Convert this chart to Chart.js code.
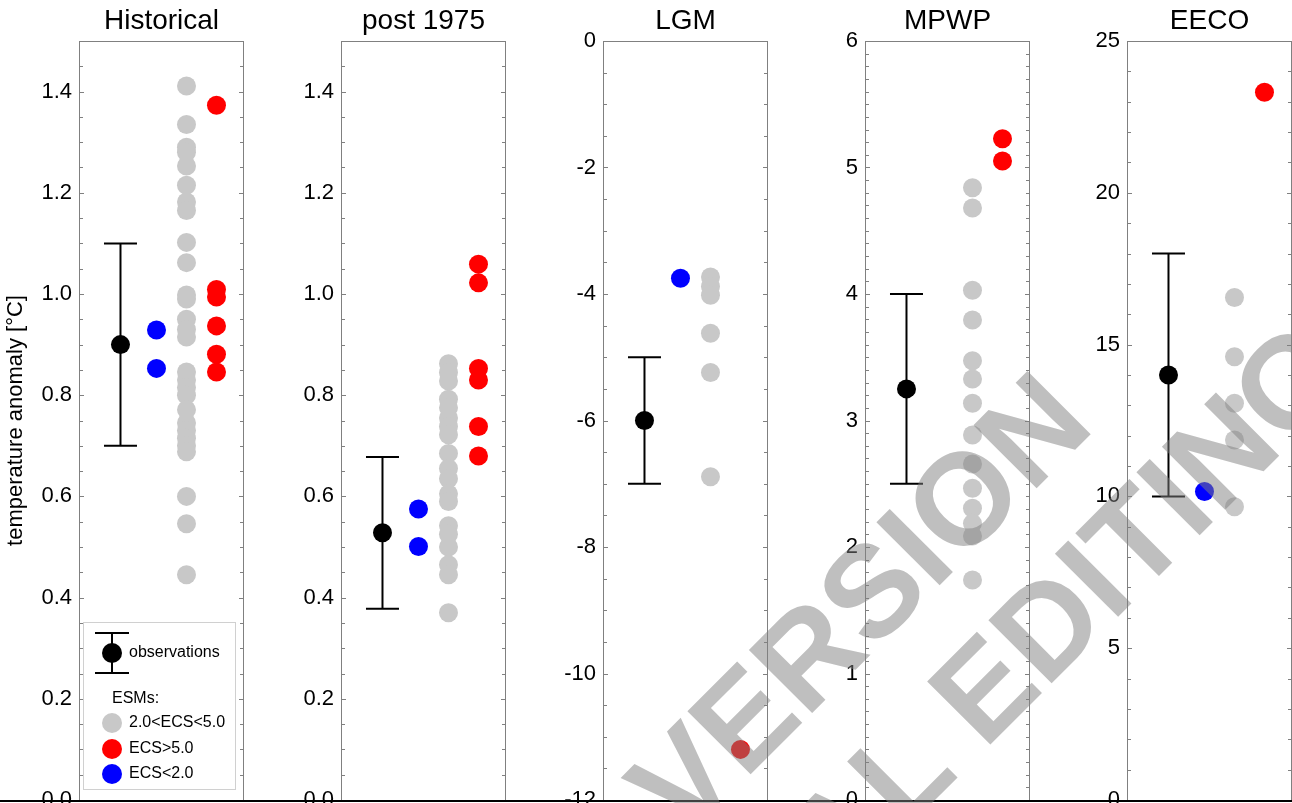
<!DOCTYPE html>
<html>
<head>
<meta charset="utf-8">
<script src="https://cdn.jsdelivr.net/npm/chart.js@4.4.1/dist/chart.umd.min.js"></script>
<style>
  html, body { margin: 0; padding: 0; background: #fff; overflow: hidden; width: 1292px; height: 803px; }
  canvas { position: absolute; top: 0; }
  #baseline { position: absolute; left: 0; top: 800px; width: 1292px; height: 2px; background: #000; }
  #wm { position: absolute; left: 0; top: 0; pointer-events: none; }
</style>
</head>
<body>
<div id="panels"></div>
<div id="baseline"></div>
<svg id="wm" width="1292" height="803">
  <g font-family="Liberation Sans, Arial, sans-serif" font-size="130" font-weight="bold" fill="rgba(128,128,128,0.5)">
    <text x="1097" y="428" text-anchor="end" transform="rotate(-45 1097 428)">ACCEPTED VERSION</text>
    <text x="1357" y="378" text-anchor="end" transform="rotate(-45 1357 378)">SUBJECT TO FINAL EDITING</text>
  </g>
</svg>
<script>
// ===== 5 パネル：観測（誤差棒）と ESM の散布 =====

const PANEL_TITLES = ['Historical', 'post 1975', 'LGM', 'MPWP', 'EECO'];
const Y_MIN   = [0, 0, -12, 0, 0];
const Y_MAX   = [1.5, 1.5, 0, 6, 25];
const Y_STEP  = [0.2, 0.2, 2, 1, 5];
const Y_MINOR = [0.05, 0.05, 0.5, 0.1, 1];
const Y_DEC   = [1, 1, 0, 0, 0];

// observations: mean with low/high whiskers
const OBS_MEAN = [0.90, 0.528, -6.0, 3.25, 14.0];
const OBS_LOW  = [0.70, 0.378, -7.0, 2.50, 10.0];
const OBS_HIGH = [1.10, 0.678, -5.0, 4.00, 18.0];

// ESMs 2.0<ECS<5.0 (gray)
const HIST_MID = [1.411, 1.335, 1.290, 1.280, 1.253, 1.215, 1.182, 1.165, 1.102, 1.062, 0.998, 0.990,
                  0.950, 0.930, 0.915, 0.846, 0.830, 0.815, 0.800, 0.771, 0.745, 0.730, 0.715, 0.700,
                  0.688, 0.600, 0.546, 0.445];
const P75_MID  = [0.862, 0.845, 0.828, 0.792, 0.775, 0.755, 0.738, 0.722, 0.685, 0.655, 0.635, 0.605,
                  0.590, 0.542, 0.525, 0.500, 0.465, 0.445, 0.370];
const LGM_MID  = [-3.73, -3.88, -4.02, -4.62, -5.24, -6.89];
const MPWP_MID = [4.84, 4.68, 4.03, 3.795, 3.473, 3.328, 3.136, 2.885, 2.656, 2.464, 2.306, 2.187, 2.087, 1.739];
const EECO_MID = [16.55, 14.6, 13.07, 11.86, 9.66];

// ESMs ECS>5.0 (red)
const HIST_HIGH = [1.373, 1.009, 0.994, 0.937, 0.881, 0.846];
const P75_HIGH  = [1.059, 1.022, 0.853, 0.830, 0.738, 0.680];
const LGM_HIGH  = [-11.2];
const MPWP_HIGH = [5.228, 5.051];
const EECO_HIGH = [23.31];

// ESMs ECS<2.0 (blue)
const HIST_LOW = [0.929, 0.853];
const P75_LOW  = [0.575, 0.501];
const LGM_LOW  = [-3.75];
const MPWP_LOW = [];
const EECO_LOW = [10.16];

const MID  = [HIST_MID, P75_MID, LGM_MID, MPWP_MID, EECO_MID];
const HIGH = [HIST_HIGH, P75_HIGH, LGM_HIGH, MPWP_HIGH, EECO_HIGH];
const LOW  = [HIST_LOW, P75_LOW, LGM_LOW, MPWP_LOW, EECO_LOW];

const LEGEND_LABELS = ['observations', 'ESMs:', '2.0<ECS<5.0', 'ECS>5.0', 'ECS<2.0'];

// --- layout ---
const BOX_LEFT = [79, 341, 603, 865, 1127];
const BOX_W = 165;
const AXIS_W = [79, 60, 60, 60, 60];
const COL = { obs: 0.8, low: 2, mid: 3, high: 4 };
const C_GRAY = '#c8c8c8', C_RED = '#ff0000', C_BLUE = '#0000ff';
const FONT = '"Liberation Sans", Arial, sans-serif';

Chart.defaults.font.family = FONT;
Chart.defaults.color = '#000';

// 枠・内向き目盛り・タイトル
const panelFrame = {
  id: 'panelFrame',
  afterDatasetsDraw(chart, args, opts) {
    const { ctx, chartArea: a } = chart;
    const y = chart.scales.y;
    ctx.save();
    ctx.strokeStyle = '#808080';
    ctx.lineWidth = 1;
    ctx.strokeRect(a.left + 0.5, a.top + 0.5, a.right - a.left - 1, a.bottom - a.top);
    const n = Math.round((y.max - y.min) / opts.minor);
    ctx.beginPath();
    for (let i = 0; i <= n; i++) {
      const v = y.min + i * opts.minor;
      const py = Math.round(y.getPixelForValue(v)) + 0.5;
      const r = v / opts.major;
      const len = Math.abs(r - Math.round(r)) < 1e-6 ? 5 : 4;
      ctx.moveTo(a.left, py); ctx.lineTo(a.left + len, py);
      ctx.moveTo(a.right, py); ctx.lineTo(a.right - len, py);
    }
    ctx.stroke();
    ctx.fillStyle = '#000';
    ctx.font = '28px ' + FONT;
    ctx.textAlign = 'center';
    ctx.textBaseline = 'alphabetic';
    ctx.fillText(opts.title, (a.left + a.right) / 2, 29);
    ctx.restore();
  }
};

// Historical パネル内の凡例
const esmLegend = {
  id: 'esmLegend',
  afterDraw(chart, args, opts) {
    if (!opts.show) return;
    const ctx = chart.ctx;
    ctx.save();
    ctx.strokeStyle = '#d0d0d0';
    ctx.lineWidth = 1;
    ctx.strokeRect(83.5, 622.5, 152, 167);
    // observations symbol
    ctx.strokeStyle = '#000';
    ctx.lineWidth = 2;
    ctx.beginPath();
    ctx.moveTo(112, 633); ctx.lineTo(112, 673);
    ctx.moveTo(95, 633); ctx.lineTo(129, 633);
    ctx.moveTo(95, 673); ctx.lineTo(129, 673);
    ctx.stroke();
    const dot = (x, y, c) => { ctx.fillStyle = c; ctx.beginPath(); ctx.arc(x, y, 10, 0, Math.PI * 2); ctx.fill(); };
    dot(112, 653, '#000');
    dot(112, 723, C_GRAY);
    dot(112, 749, C_RED);
    dot(112, 774, C_BLUE);
    ctx.fillStyle = '#000';
    ctx.font = '16px ' + FONT;
    ctx.textAlign = 'left';
    ctx.textBaseline = 'middle';
    ctx.fillText(LEGEND_LABELS[0], 129, 653);
    ctx.fillText(LEGEND_LABELS[1], 112, 699);
    ctx.fillText(LEGEND_LABELS[2], 129, 723);
    ctx.fillText(LEGEND_LABELS[3], 129, 749);
    ctx.fillText(LEGEND_LABELS[4], 129, 774);
    ctx.restore();
  }
};

function pts(values, x) {
  return values.map(v => ({ x, y: v }));
}

function dotSet(values, x, color) {
  return {
    data: pts(values, x), showLine: false,
    pointRadius: 9.5, pointHoverRadius: 9.5,
    pointBackgroundColor: color, pointBorderColor: color, pointBorderWidth: 0
  };
}

function buildPanel(i) {
  const host = document.getElementById('panels');
  const cv = document.createElement('canvas');
  const w = AXIS_W[i] + BOX_W + 2;
  cv.width = w; cv.height = 830;
  cv.style.left = (BOX_LEFT[i] - AXIS_W[i]) + 'px';
  cv.style.width = w + 'px'; cv.style.height = '830px';
  host.appendChild(cv);

  const whisker = [{ x: COL.obs, y: OBS_LOW[i] }, { x: COL.obs, y: OBS_HIGH[i] }];

  new Chart(cv, {
    type: 'scatter',
    data: {
      datasets: [
        dotSet([OBS_MEAN[i]], COL.obs, '#000'),
        { data: whisker, showLine: false, pointStyle: 'line', pointRadius: 16.5,
          pointBorderColor: '#000', pointBorderWidth: 2 },
        { data: whisker, showLine: true, borderColor: '#000', borderWidth: 2, pointRadius: 0 },
        dotSet(LOW[i], COL.low, C_BLUE),
        dotSet(HIGH[i], COL.high, C_RED),
        dotSet(MID[i], COL.mid, C_GRAY)
      ]
    },
    options: {
      responsive: false,
      animation: false,
      events: [],
      layout: { autoPadding: false, padding: { left: 0, right: 2, top: 41, bottom: 30 } },
      scales: {
        x: { type: 'linear', display: false, min: -0.583, max: 4.917 },
        y: {
          type: 'linear', position: 'left',
          min: Y_MIN[i], max: Y_MAX[i],
          afterFit: s => { s.width = AXIS_W[i]; },
          grid: { display: false, drawTicks: false },
          border: { display: false },
          ticks: {
            stepSize: Y_STEP[i], includeBounds: false, autoSkip: false, padding: 7,
            font: { size: 22 }, color: '#000',
            callback: v => Number(v).toFixed(Y_DEC[i])
          },
          title: {
            display: i === 0, text: 'temperature anomaly [°C]',
            font: { size: 22 }, color: '#000', padding: { top: 3, bottom: 0 }
          }
        }
      },
      plugins: {
        legend: { display: false },
        tooltip: { enabled: false },
        panelFrame: { title: PANEL_TITLES[i], major: Y_STEP[i], minor: Y_MINOR[i] },
        esmLegend: { show: i === 0 }
      }
    },
    plugins: [panelFrame, esmLegend]
  });
}

for (let i = 0; i < PANEL_TITLES.length; i++) buildPanel(i);
</script>
</body>
</html>
